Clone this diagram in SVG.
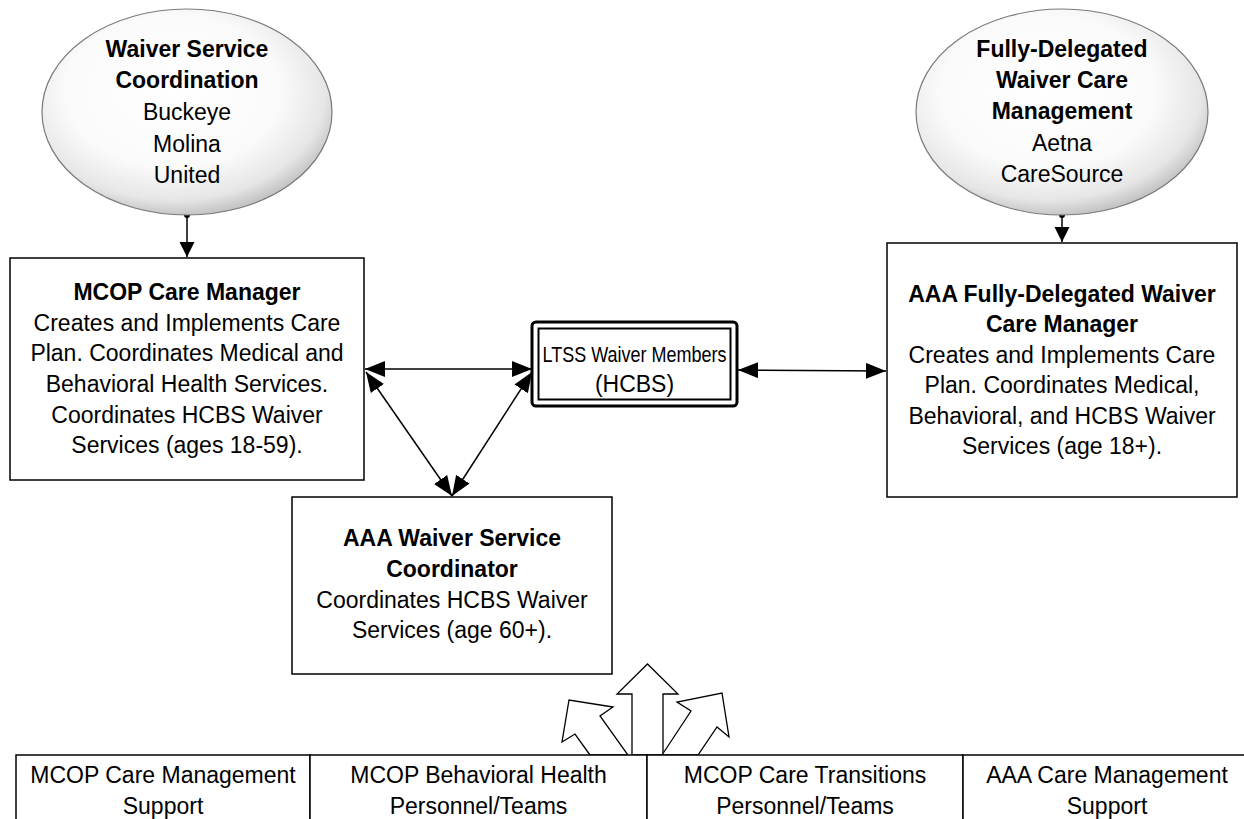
<svg xmlns="http://www.w3.org/2000/svg" width="1244" height="819" viewBox="0 0 1244 819">
<defs>
<radialGradient id="sphere" cx="0.45" cy="0.4" r="0.62">
<stop offset="0" stop-color="#ffffff"/>
<stop offset="0.6" stop-color="#fafafa"/>
<stop offset="0.85" stop-color="#e6e6e6"/>
<stop offset="1" stop-color="#bdbdbd"/>
</radialGradient>
<marker id="ah" markerUnits="userSpaceOnUse" markerWidth="22" markerHeight="18" refX="20" refY="8" orient="auto-start-reverse">
<path d="M0,0 L20,8 L0,16 z" fill="#000"/>
</marker>
<marker id="ahs" markerUnits="userSpaceOnUse" markerWidth="16" markerHeight="16" refX="15" refY="7.5" orient="auto">
<path d="M0,0 L15,7.5 L0,15 z" fill="#000"/>
</marker>
<marker id="dot" markerUnits="userSpaceOnUse" markerWidth="8" markerHeight="8" refX="4" refY="4">
<circle cx="4" cy="4" r="3" fill="#000"/>
</marker>
</defs>
<style>
text{font-family:"Liberation Sans",Arial,sans-serif;font-size:23px;fill:#000;text-anchor:middle}
.b{font-weight:bold}
.box{fill:#fff;stroke:#000;stroke-width:1.5}
.ell{fill:url(#sphere);stroke:#7a7a7a;stroke-width:1.2}
.con{fill:none;stroke:#000;stroke-width:1.5}
.blk{fill:#fff;stroke:#000;stroke-width:1.3;stroke-linejoin:miter}
</style>
<rect width="1244" height="819" fill="#fff"/>

<g id="connectors">
<line class="con" x1="187" y1="215" x2="187" y2="257" marker-start="url(#dot)" marker-end="url(#ahs)"/>
<line class="con" x1="1062" y1="215" x2="1062" y2="242" marker-start="url(#dot)" marker-end="url(#ahs)"/>
<line class="con" x1="365" y1="369" x2="532" y2="369" marker-start="url(#ah)" marker-end="url(#ah)"/>
<line class="con" x1="366" y1="372" x2="452" y2="496" marker-start="url(#ah)" marker-end="url(#ah)"/>
<line class="con" x1="532" y1="372" x2="452" y2="496" marker-start="url(#ah)" marker-end="url(#ah)"/>
<line class="con" x1="738" y1="370" x2="886" y2="371" marker-start="url(#ah)" marker-end="url(#ah)"/>
</g>

<g id="waiver-service-coordination">
<ellipse class="ell" cx="187" cy="112" rx="145" ry="103"/>
<text class="b" x="187" y="57">Waiver Service</text>
<text class="b" x="187" y="88">Coordination</text>
<text x="187" y="120">Buckeye</text>
<text x="187" y="152">Molina</text>
<text x="187" y="183">United</text>
</g>

<g id="fully-delegated">
<ellipse class="ell" cx="1062" cy="112" rx="146" ry="103"/>
<text class="b" x="1062" y="57">Fully-Delegated</text>
<text class="b" x="1062" y="88">Waiver Care</text>
<text class="b" x="1062" y="119">Management</text>
<text x="1062" y="151">Aetna</text>
<text x="1062" y="182">CareSource</text>
</g>

<g id="mcop-care-manager">
<rect class="box" x="10" y="258" width="354" height="222"/>
<text class="b" x="187" y="300">MCOP Care Manager</text>
<text x="187" y="330.5">Creates and Implements Care</text>
<text x="187" y="361">Plan. Coordinates Medical and</text>
<text x="187" y="392">Behavioral Health Services.</text>
<text x="187" y="422.5">Coordinates HCBS Waiver</text>
<text x="187" y="453">Services (ages 18-59).</text>
</g>

<g id="ltss-members">
<rect x="532" y="322" width="205" height="84" rx="4" fill="#fff" stroke="#000" stroke-width="3"/>
<rect x="538.5" y="328.5" width="192" height="71" fill="none" stroke="#000" stroke-width="2"/>
<text x="634.5" y="362" style="font-size:22.5px" textLength="184" lengthAdjust="spacingAndGlyphs">LTSS Waiver Members</text>
<text x="634.5" y="392">(HCBS)</text>
</g>

<g id="aaa-fully-delegated">
<rect class="box" x="887" y="243" width="350" height="254"/>
<text class="b" x="1062" y="302">AAA Fully-Delegated Waiver</text>
<text class="b" x="1062" y="332">Care Manager</text>
<text x="1062" y="363">Creates and Implements Care</text>
<text x="1062" y="393">Plan. Coordinates Medical,</text>
<text x="1062" y="424">Behavioral, and HCBS Waiver</text>
<text x="1062" y="454">Services (age 18+).</text>
</g>

<g id="aaa-waiver-coordinator">
<rect class="box" x="292" y="497" width="320" height="177"/>
<text class="b" x="452" y="546">AAA Waiver Service</text>
<text class="b" x="452" y="577">Coordinator</text>
<text x="452" y="608">Coordinates HCBS Waiver</text>
<text x="452" y="638">Services (age 60+).</text>
</g>

<g id="block-arrows">
<polygon class="blk" points="590,755 575,734 562,742 569,700 613,707 600,716 628,755"/>
<polygon class="blk" points="632,755 632,694 617,694 647.5,664 678,694 663,694 663,755"/>
<polygon class="blk" points="662,755 691,711 677,702 722,693 729,737 717,727 698,755"/>
</g>

<g id="mcop-care-management-support">
<rect class="box" x="16" y="755" width="294" height="80"/>
<text x="163" y="783">MCOP Care Management</text>
<text x="163" y="814">Support</text>
</g>
<g id="mcop-behavioral-health">
<rect class="box" x="310" y="755" width="337" height="80"/>
<text x="478.5" y="783">MCOP Behavioral Health</text>
<text x="478.5" y="814">Personnel/Teams</text>
</g>
<g id="mcop-care-transitions">
<rect class="box" x="647" y="755" width="316" height="80"/>
<text x="805" y="783">MCOP Care Transitions</text>
<text x="805" y="814">Personnel/Teams</text>
</g>
<g id="aaa-care-management-support">
<rect class="box" x="963" y="755" width="290" height="80"/>
<text x="1107" y="783">AAA Care Management</text>
<text x="1107" y="814">Support</text>
</g>
</svg>
